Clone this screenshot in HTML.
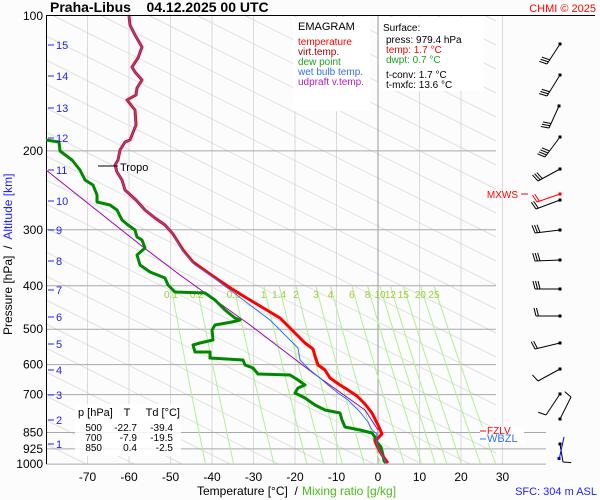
<!DOCTYPE html>
<html><head><meta charset="utf-8">
<style>
html,body{margin:0;padding:0;background:#fff;width:600px;height:500px;overflow:hidden;}
svg{display:block;font-family:"Liberation Sans",sans-serif;overflow:hidden;}
text{white-space:pre;}
</style></head>
<body>
<svg id="s" width="600" height="500" xmlns="http://www.w3.org/2000/svg">
<defs><clipPath id="c2"><rect x="46" y="16" width="500" height="448"/></clipPath></defs>
<rect width="600" height="500" fill="#fcfcfc"/>
<g id="grid"></g>
<g id="mix"></g>
<g id="prof"></g>
<g id="over"></g>
</svg>
<script>
var NS="http://www.w3.org/2000/svg";
function el(p,t,a,txt){var e=document.createElementNS(NS,t);for(var k in a)e.setAttribute(k,a[k]);if(txt!=null)e.textContent=txt;p.appendChild(e);return e;}
function X(T){return 378+4.15*T;}
function Y(p){return 16+194.6*Math.log(p/100);}
var g=document.getElementById('grid'),m=document.getElementById('mix'),pr=document.getElementById('prof'),o=document.getElementById('over');
for(var c=-300;c<=480;c+=24){
  var xa=46,xb=496,ya=c,yb=c+0.5*450;
  if(ya<16){xa=46+(16-c)/0.5;ya=16;}
  if(yb>464){xb=46+(464-c)/0.5;yb=464;}
  if(xa<xb&&xa<=496&&xb>=46){el(g,'line',{x1:xa,y1:ya,x2:xb,y2:yb,stroke:'#e0e0e0','stroke-width':1});}
}
for(var T=-70;T<=30;T+=10){el(g,'line',{x1:X(T),y1:16,x2:X(T),y2:464,stroke:T==0?'#999':'#dadada','stroke-width':1});}
[200,300,400,500,600,700].forEach(function(p){el(g,'line',{x1:46,y1:Y(p),x2:496,y2:Y(p),stroke:'#a8a8a8'});});
[850,925,1000].forEach(function(p){el(g,'line',{x1:46,y1:Y(p),x2:546,y2:Y(p),stroke:'#a8a8a8'});});
el(g,'line',{x1:46,y1:15.5,x2:595,y2:15.5,stroke:'#000'});
el(g,'line',{x1:46.5,y1:16,x2:46.5,y2:464,stroke:'#000'});
var mc=el(m,'g',{'clip-path':'url(#c2)'});
[0.1,0.2,0.5,1,1.4,2,3,4,6,8,10,12,15,20,25].forEach(function(w){var pts=[];for(var p=400;p<=1000;p+=20){var e=w*p/(622+w);var l=Math.log(e/6.112);var Td=243.5*l/(17.67-l);pts.push(X(Td).toFixed(1)+','+Y(p).toFixed(1));}
el(mc,'polyline',{points:pts.join(' '),fill:'none',stroke:'#b0f090','stroke-width':1});
var e=w*400/(622+w),l=Math.log(e/6.112),Td=243.5*l/(17.67-l);
el(m,'text',{x:X(Td),y:298,'font-size':10,fill:'#9ccc3c','text-anchor':'middle'},String(w));});
function line(parent,pts,col,w){el(parent,'polyline',{points:pts.map(function(a){return a.join(',')}).join(' '),fill:'none',stroke:col,'stroke-width':w,'stroke-linejoin':'round'});}
var upper=[[129,16],[130,25],[135,35],[142,47],[138,58],[132,67],[135,72],[142,80],[137,88],[136,95],[127,100],[135,110],[136,125],[130,140],[125,142],[120,150],[118,160],[115,165],[117,172],[122,180],[125,190],[136,200],[145,210],[155,218],[165,225],[173,234]];
var red=upper.concat([[183,250],[193,262],[207,272],[220,281],[232,289],[245,297],[260,306],[280,318],[295,333],[305,343],[313,349],[315,356],[318,365],[325,370],[330,378],[340,385],[348,390],[357,396],[365,404],[372,413],[378,425],[382,434],[375,441],[378,448],[382,455],[388,463]]);
var blue=upper.concat([[182,250],[195,265],[210,275],[230,290],[250,305],[270,320],[285,335],[298,348],[300,360],[310,370],[320,378],[328,385],[338,393],[348,400],[360,412],[368,422],[372,430],[377,434],[376,441],[378,448],[382,455],[386,463]]);
var green=[[46,140],[59,142],[60,151],[72,160],[80,170],[85,180],[93,185],[97,195],[97,202],[110,205],[117,210],[122,220],[128,225],[135,230],[137,237],[142,240],[145,248],[137,255],[140,265],[150,272],[165,278],[168,285],[175,292],[205,293],[215,300],[225,310],[235,318],[240,320],[232,322],[215,325],[212,330],[213,340],[200,343],[193,345],[195,352],[210,352],[210,358],[243,360],[245,365],[253,368],[258,374],[290,375],[298,380],[305,385],[298,388],[295,393],[305,398],[315,405],[325,410],[340,413],[342,420],[345,427],[360,430],[372,433],[375,437],[375,440],[381,447],[383,455],[384,461],[386,463]];
var purp=[[46,170],[143,247],[180,275],[250,325],[313,373],[365,410],[378,430]];
line(pr,purp,'#a000b0',1);
line(pr,green,'#008800',3);
line(pr,red,'#ff0000',3);
line(pr,blue,'#3070f0',1);
el(o,'line',{x1:98,y1:166,x2:118,y2:166,stroke:'#000'});
el(o,'text',{x:120,y:171,'font-size':11},'Tropo');
el(o,'text',{x:50,y:12,'font-size':14,'font-weight':'bold'},'Praha-Libus    04.12.2025 00 UTC');
el(o,'text',{x:596,y:12,'font-size':11,fill:'#ff0000','text-anchor':'end'},'CHMI © 2025');
[100,200,300,400,500,600,700,850,925,1000].forEach(function(p){el(o,'text',{x:43,y:Y(p)+4,'font-size':12,'text-anchor':'end'},String(p));});
var km=[[15,45],[14,76],[13,108],[12,138],[11,170],[10,201],[9,230],[8,261],[7,290],[6,317],[5,344],[4,370],[3,395],[2,420],[1,444]];
km.forEach(function(k){el(o,'line',{x1:48,y1:k[1],x2:54,y2:k[1],stroke:'#2020ff'});el(o,'text',{x:56,y:k[1]+4,'font-size':11,fill:'#2020ff'},String(k[0]));});
for(var T=-70;T<=30;T+=10){el(o,'text',{x:X(T),y:481,'font-size':12,'text-anchor':'middle'},String(T));}
el(o,'text',{x:197,y:495,'font-size':12},'Temperature [°C]  /');
el(o,'text',{x:302,y:495,'font-size':12,fill:'#4cbb17'},'Mixing ratio [g/kg]');
el(o,'text',{x:597,y:495,'font-size':11,fill:'#2020ff','text-anchor':'end'},'SFC: 304 m ASL');
var yt=el(o,'text',{transform:'translate(12,335) rotate(-90)','font-size':12});
el(yt,'tspan',{},'Pressure [hPa]  /  ');
el(yt,'tspan',{fill:'#2020ff'},'Altitude [km]');
el(o,'rect',{x:293,y:17,width:77,height:94,fill:'#fff'});
el(o,'text',{x:298,y:30,'font-size':11},'EMAGRAM');
[['temperature','#ff0000'],['virt.temp.','#a00000'],['dew point','#20a020'],['wet bulb temp.','#3070f0'],['udpraft v.temp.','#b020c0']].forEach(function(a,i){el(o,'text',{x:298,y:45+i*10,'font-size':10,fill:a[1]},a[0]);});
el(o,'rect',{x:379,y:17,width:105,height:74,fill:'#fff'});
el(o,'text',{x:383,y:31,'font-size':10},'Surface:');
el(o,'text',{x:386,y:43,'font-size':10},'press: 979.4 hPa');
el(o,'text',{x:386,y:53,'font-size':10,fill:'#ff0000'},'temp: 1.7 °C');
el(o,'text',{x:386,y:63,'font-size':10,fill:'#20a020'},'dwpt: 0.7 °C');
el(o,'text',{x:386,y:78,'font-size':10},'t-conv: 1.7 °C');
el(o,'text',{x:386,y:88,'font-size':10},'t-mxfc: 13.6 °C');
el(o,'rect',{x:75,y:404,width:106,height:52,fill:'#fff',opacity:0.85});
el(o,'text',{x:78,y:416,'font-size':11},'p [hPa]');
el(o,'text',{x:127,y:416,'font-size':11,'text-anchor':'middle'},'T');
el(o,'text',{x:180,y:416,'font-size':11,'text-anchor':'end'},'Td [°C]');
[['500','-22.7','-39.4'],['700','-7.9','-19.5'],['850','0.4','-2.5']].forEach(function(r,i){var y=431+i*10;
el(o,'text',{x:102,y:y,'font-size':10,'text-anchor':'end'},r[0]);el(o,'text',{x:137,y:y,'font-size':10,'text-anchor':'end'},r[1]);el(o,'text',{x:173,y:y,'font-size':10,'text-anchor':'end'},r[2]);});
el(o,'rect',{x:480,y:427,width:44,height:16,fill:'#fff'});
el(o,'text',{x:487,y:434,'font-size':10,fill:'#ff0000'},'FZLV');
el(o,'line',{x1:480,y1:431,x2:486,y2:431,stroke:'#ff0000'});
el(o,'text',{x:487,y:442,'font-size':11,fill:'#3070f0'},'WBZL');
el(o,'line',{x1:480,y1:439,x2:486,y2:439,stroke:'#3070f0'});
el(o,'text',{x:518,y:198,'font-size':10,fill:'#ff0000','text-anchor':'end'},'MXWS');
el(o,'line',{x1:521,y1:194,x2:528,y2:194,stroke:'#ff0000'});
var wb=[[560,44,547,64,3],[560,75,547,96,3],[559,106,549,128,3],[560,137,545,157,4],[560,169,538,181,3],[560,194,537,202,2,'#f00'],[560,200,536,209,2],[560,230,535,233,3],[560,260,535,261,3],[560,289,535,289,3],[560,316,536,316,2],[560,343,535,349,2],[560,369,538,381,1],[560,394,546,415,1],[560,419,571,397,1],[560,444,563,462,1]];
wb.forEach(function(b){var c=b[5]||'#000';el(o,'line',{x1:b[0],y1:b[1],x2:b[2],y2:b[3],stroke:c});el(o,'rect',{x:b[0]-1.5,y:b[1]-1.5,width:3,height:3,fill:c});
var dx=b[2]-b[0],dy=b[3]-b[1],L=Math.hypot(dx,dy),ux=dx/L,uy=dy/L,nx=-uy,ny=ux; if(ny>0){nx=-nx;ny=-ny;}
for(var i=0;i<b[4];i++){var px=b[2]-ux*i*2.5,py=b[3]-uy*i*2.5;el(o,'line',{x1:px,y1:py,x2:px+nx*8+ux*2,y2:py+ny*8+uy*2,stroke:c});}});
el(o,'line',{x1:564,y1:437,x2:559,y2:460,stroke:'#0000ff'});
el(o,'rect',{x:557.5,y:457,width:3,height:3,fill:'#0000ff'});
</script>
</body></html>
